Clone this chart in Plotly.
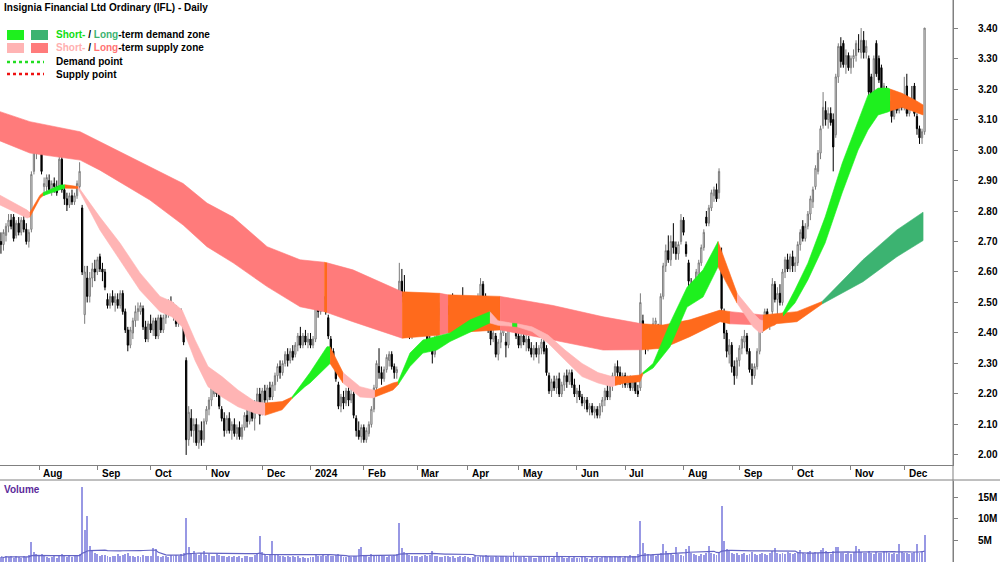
import plotly.graph_objects as go
import pandas as pd

# ---------------- data ----------------
opens = [
 2.70,2.69,2.72,2.75,2.77,2.78,2.72,2.76,2.73,2.77,
 2.74,2.70,2.74,2.93,2.99,3.03,2.99,2.88,2.88,2.90,
 2.87,2.89,2.88,2.88,2.97,2.87,2.84,2.82,2.85,2.83,
 2.85,2.88,2.81,2.46,2.58,2.52,2.58,2.61,2.60,2.65,
 2.61,2.60,2.51,2.49,2.52,2.50,2.51,2.49,2.53,2.47,
 2.41,2.36,2.40,2.44,2.47,2.47,2.48,2.42,2.38,2.43,
 2.41,2.44,2.39,2.45,2.41,2.45,2.47,2.50,2.47,2.48,
 2.43,2.46,2.42,2.31,2.05,2.12,2.08,2.10,2.04,2.08,
 2.05,2.11,2.15,2.18,2.20,2.23,2.20,2.15,2.12,2.08,
 2.12,2.08,2.10,2.07,2.09,2.06,2.09,2.13,2.11,2.15,
 2.12,2.17,2.20,2.14,2.21,2.18,2.22,2.19,2.23,2.26,
 2.29,2.27,2.30,2.33,2.31,2.34,2.33,2.36,2.39,2.36,
 2.39,2.37,2.38,2.36,2.38,2.50,2.47,2.52,2.52,2.45,
 2.38,2.34,2.29,2.23,2.16,2.19,2.17,2.21,2.18,2.20,
 2.12,2.08,2.06,2.09,2.05,2.07,2.10,2.15,2.22,2.29,
 2.27,2.25,2.28,2.31,2.33,2.29,2.27,2.45,2.57,2.53,
 2.46,2.43,2.39,2.43,2.44,2.46,2.48,2.44,2.41,2.37,
 2.36,2.33,2.38,2.46,2.48,2.45,2.49,2.46,2.50,2.48,
 2.46,2.49,2.51,2.50,2.46,2.48,2.47,2.50,2.48,2.52,
 2.56,2.52,2.47,2.41,2.38,2.39,2.33,2.37,2.40,2.37,
 2.36,2.47,2.44,2.45,2.39,2.36,2.39,2.37,2.38,2.35,
 2.33,2.35,2.33,2.35,2.37,2.35,2.26,2.21,2.24,2.22,
 2.25,2.20,2.23,2.26,2.24,2.27,2.23,2.20,2.21,2.19,
 2.17,2.18,2.15,2.16,2.14,2.15,2.13,2.16,2.18,2.21,
 2.19,2.23,2.26,2.29,2.27,2.24,2.26,2.23,2.25,2.22,
 2.24,2.21,2.22,2.44,2.38,2.35,2.39,2.41,2.43,2.42,
 2.38,2.52,2.62,2.67,2.64,2.70,2.68,2.66,2.70,2.77,
 2.69,2.63,2.55,2.53,2.56,2.59,2.63,2.68,2.78,2.76,
 2.81,2.85,2.87,2.86,2.65,2.47,2.40,2.33,2.36,2.29,
 2.26,2.31,2.35,2.37,2.39,2.34,2.28,2.26,2.29,2.34,
 2.41,2.45,2.47,2.43,2.47,2.56,2.51,2.53,2.50,2.60,
 2.64,2.61,2.65,2.62,2.63,2.69,2.75,2.71,2.75,2.79,
 2.83,2.88,2.93,2.99,3.08,3.13,3.10,3.12,3.10,3.05,
 3.24,3.34,3.35,3.28,3.31,3.27,3.30,3.31,3.33,3.32,
 3.36,3.32,3.30,3.24,3.19,3.35,3.30,3.27,3.18,3.20,
 3.19,3.16,3.11,3.15,3.13,3.16,3.14,3.21,3.12,3.16,
 3.21,3.11,3.07,3.04,3.06,
]
highs = [
 2.73,2.74,2.76,2.79,2.79,2.79,2.77,2.78,2.78,2.79,
 2.76,2.74,2.93,3.02,3.05,3.04,3.00,2.91,2.92,2.92,
 2.90,2.91,2.90,2.98,2.98,2.88,2.86,2.86,2.87,2.86,
 2.90,2.96,2.82,2.62,2.62,2.60,2.63,2.64,2.65,2.66,
 2.63,2.61,2.53,2.53,2.54,2.53,2.53,2.54,2.54,2.48,
 2.42,2.42,2.45,2.49,2.50,2.50,2.49,2.44,2.44,2.46,
 2.45,2.45,2.46,2.46,2.46,2.49,2.51,2.52,2.50,2.49,
 2.47,2.48,2.43,2.32,2.16,2.15,2.12,2.12,2.10,2.11,
 2.12,2.16,2.19,2.23,2.25,2.25,2.21,2.16,2.14,2.13,
 2.14,2.11,2.12,2.10,2.11,2.10,2.14,2.15,2.16,2.17,
 2.18,2.22,2.22,2.22,2.23,2.23,2.24,2.24,2.27,2.30,
 2.31,2.31,2.34,2.35,2.35,2.36,2.37,2.40,2.42,2.40,
 2.41,2.40,2.40,2.39,2.51,2.53,2.53,2.56,2.53,2.46,
 2.39,2.35,2.30,2.24,2.20,2.21,2.22,2.23,2.22,2.21,
 2.13,2.11,2.10,2.10,2.09,2.11,2.16,2.23,2.31,2.35,
 2.29,2.29,2.33,2.34,2.34,2.30,2.29,2.63,2.61,2.59,
 2.49,2.45,2.44,2.46,2.47,2.49,2.49,2.47,2.43,2.39,
 2.38,2.39,2.47,2.50,2.50,2.50,2.51,2.51,2.53,2.51,
 2.50,2.52,2.55,2.52,2.49,2.51,2.51,2.52,2.53,2.58,
 2.57,2.53,2.48,2.42,2.42,2.40,2.38,2.41,2.46,2.40,
 2.48,2.49,2.47,2.46,2.41,2.40,2.41,2.40,2.39,2.37,
 2.36,2.37,2.36,2.38,2.38,2.36,2.27,2.25,2.26,2.26,
 2.27,2.24,2.27,2.28,2.28,2.28,2.25,2.22,2.23,2.20,
 2.19,2.19,2.17,2.17,2.16,2.16,2.17,2.19,2.22,2.23,
 2.24,2.27,2.30,2.31,2.29,2.27,2.27,2.26,2.26,2.25,
 2.25,2.23,2.53,2.46,2.40,2.40,2.42,2.45,2.45,2.43,
 2.53,2.63,2.69,2.72,2.72,2.76,2.70,2.70,2.79,2.78,
 2.70,2.64,2.58,2.57,2.61,2.64,2.69,2.74,2.80,2.82,
 2.87,2.88,2.89,2.94,2.68,2.48,2.41,2.38,2.37,2.31,
 2.32,2.36,2.39,2.41,2.40,2.35,2.30,2.30,2.35,2.42,
 2.46,2.48,2.48,2.45,2.58,2.57,2.55,2.56,2.61,2.65,
 2.66,2.66,2.67,2.65,2.70,2.74,2.77,2.76,2.80,2.85,
 2.88,2.95,3.00,3.08,3.19,3.16,3.14,3.14,3.12,3.25,
 3.35,3.37,3.36,3.33,3.32,3.31,3.33,3.36,3.38,3.40,
 3.39,3.36,3.31,3.25,3.31,3.36,3.31,3.28,3.22,3.21,
 3.20,3.18,3.16,3.17,3.18,3.18,3.24,3.25,3.17,3.21,
 3.22,3.12,3.08,3.07,3.40,
]
lows = [
 2.66,2.67,2.70,2.73,2.74,2.70,2.71,2.72,2.72,2.73,
 2.69,2.68,2.73,2.92,2.97,2.99,2.92,2.85,2.86,2.86,
 2.85,2.86,2.85,2.87,2.86,2.82,2.80,2.81,2.82,2.82,
 2.84,2.87,2.59,2.43,2.50,2.50,2.55,2.57,2.59,2.60,
 2.57,2.54,2.48,2.48,2.49,2.47,2.48,2.48,2.46,2.40,
 2.34,2.35,2.38,2.42,2.44,2.46,2.41,2.37,2.37,2.40,
 2.39,2.38,2.38,2.40,2.40,2.43,2.45,2.46,2.44,2.42,
 2.42,2.43,2.36,2.00,2.03,2.06,2.04,2.03,2.02,2.03,
 2.04,2.10,2.13,2.16,2.19,2.19,2.15,2.11,2.06,2.07,
 2.07,2.05,2.06,2.05,2.05,2.05,2.08,2.09,2.10,2.11,
 2.08,2.14,2.10,2.13,2.16,2.17,2.18,2.18,2.21,2.24,
 2.25,2.26,2.29,2.29,2.30,2.31,2.32,2.34,2.35,2.35,
 2.36,2.35,2.35,2.35,2.37,2.45,2.46,2.49,2.46,2.38,
 2.33,2.29,2.24,2.15,2.14,2.15,2.16,2.16,2.17,2.12,
 2.06,2.05,2.04,2.04,2.04,2.06,2.09,2.14,2.21,2.25,
 2.23,2.24,2.27,2.29,2.28,2.25,2.25,2.44,2.50,2.43,
 2.40,2.38,2.38,2.41,2.41,2.44,2.43,2.40,2.36,2.34,
 2.30,2.32,2.37,2.44,2.44,2.44,2.45,2.45,2.47,2.45,
 2.45,2.47,2.48,2.45,2.44,2.46,2.46,2.47,2.47,2.51,
 2.51,2.46,2.40,2.36,2.37,2.32,2.31,2.35,2.39,2.32,
 2.35,2.43,2.42,2.38,2.35,2.35,2.36,2.34,2.34,2.32,
 2.31,2.32,2.30,2.33,2.33,2.26,2.20,2.19,2.21,2.20,
 2.19,2.19,2.21,2.22,2.23,2.22,2.19,2.17,2.18,2.16,
 2.15,2.14,2.13,2.13,2.12,2.12,2.12,2.14,2.16,2.18,
 2.18,2.21,2.24,2.25,2.23,2.22,2.22,2.22,2.21,2.21,
 2.20,2.19,2.21,2.37,2.33,2.34,2.37,2.39,2.40,2.35,
 2.37,2.51,2.60,2.63,2.62,2.66,2.64,2.64,2.69,2.72,
 2.65,2.49,2.51,2.51,2.55,2.58,2.62,2.67,2.75,2.75,
 2.80,2.83,2.83,2.84,2.47,2.38,2.32,2.30,2.27,2.23,
 2.25,2.29,2.33,2.35,2.33,2.27,2.23,2.25,2.28,2.33,
 2.40,2.42,2.42,2.41,2.46,2.50,2.45,2.49,2.49,2.58,
 2.60,2.60,2.60,2.60,2.62,2.67,2.70,2.70,2.74,2.77,
 2.81,2.87,2.92,2.97,3.07,3.08,3.07,3.08,2.93,3.04,
 3.22,3.27,3.27,3.25,3.26,3.25,3.27,3.29,3.32,3.30,
 3.30,3.30,3.18,3.13,3.18,3.24,3.22,3.19,3.16,3.17,
 3.16,3.09,3.10,3.12,3.12,3.13,3.13,3.11,3.11,3.14,
 3.11,3.05,3.02,3.02,3.05,
]
closes = [
 2.69,2.73,2.75,2.77,2.75,2.71,2.76,2.73,2.77,2.74,
 2.70,2.73,2.92,3.00,3.03,3.00,2.93,2.89,2.91,2.87,
 2.89,2.88,2.86,2.97,2.87,2.84,2.82,2.85,2.83,2.85,
 2.89,2.93,2.60,2.60,2.52,2.58,2.61,2.60,2.64,2.61,
 2.60,2.55,2.49,2.52,2.50,2.52,2.49,2.53,2.47,2.41,
 2.36,2.41,2.44,2.47,2.48,2.49,2.42,2.38,2.43,2.41,
 2.44,2.39,2.45,2.41,2.45,2.47,2.50,2.47,2.48,2.43,
 2.46,2.44,2.37,2.05,2.14,2.08,2.10,2.04,2.08,2.05,
 2.11,2.15,2.18,2.22,2.23,2.20,2.16,2.12,2.08,2.12,
 2.08,2.10,2.07,2.09,2.06,2.09,2.13,2.11,2.15,2.12,
 2.17,2.20,2.13,2.21,2.18,2.22,2.19,2.23,2.26,2.29,
 2.27,2.30,2.33,2.31,2.34,2.32,2.36,2.39,2.36,2.39,
 2.37,2.38,2.36,2.38,2.50,2.47,2.52,2.51,2.47,2.39,
 2.34,2.30,2.25,2.16,2.19,2.17,2.21,2.18,2.20,2.13,
 2.08,2.06,2.09,2.05,2.08,2.10,2.15,2.22,2.30,2.27,
 2.25,2.28,2.32,2.33,2.29,2.27,2.28,2.57,2.52,2.45,
 2.42,2.39,2.43,2.45,2.46,2.48,2.44,2.41,2.37,2.36,
 2.33,2.38,2.46,2.48,2.45,2.49,2.46,2.50,2.48,2.46,
 2.49,2.51,2.50,2.46,2.48,2.47,2.50,2.48,2.52,2.56,
 2.52,2.47,2.41,2.38,2.40,2.33,2.37,2.40,2.45,2.36,
 2.47,2.44,2.45,2.39,2.36,2.39,2.37,2.38,2.35,2.33,
 2.35,2.33,2.35,2.37,2.34,2.27,2.21,2.24,2.22,2.25,
 2.20,2.23,2.26,2.24,2.27,2.23,2.20,2.21,2.19,2.17,
 2.18,2.15,2.16,2.14,2.15,2.13,2.16,2.18,2.21,2.19,
 2.23,2.26,2.29,2.27,2.24,2.26,2.23,2.25,2.22,2.24,
 2.21,2.20,2.50,2.38,2.35,2.39,2.41,2.43,2.44,2.37,
 2.52,2.62,2.67,2.64,2.70,2.68,2.66,2.69,2.77,2.73,
 2.66,2.57,2.53,2.56,2.60,2.63,2.68,2.73,2.76,2.81,
 2.86,2.87,2.84,2.93,2.48,2.40,2.34,2.36,2.29,2.26,
 2.31,2.35,2.38,2.39,2.34,2.28,2.26,2.29,2.34,2.41,
 2.45,2.47,2.43,2.44,2.56,2.51,2.53,2.50,2.60,2.64,
 2.61,2.65,2.62,2.63,2.69,2.73,2.71,2.75,2.79,2.84,
 2.87,2.94,2.99,3.07,3.14,3.10,3.12,3.09,3.01,3.24,
 3.34,3.29,3.28,3.31,3.27,3.30,3.31,3.35,3.33,3.36,
 3.32,3.34,3.19,3.14,3.30,3.25,3.23,3.20,3.21,3.18,
 3.18,3.11,3.15,3.13,3.16,3.14,3.17,3.12,3.16,3.15,
 3.12,3.07,3.04,3.06,3.40,
]
# daily volume, millions of shares
volumes = [
 1.2,0.9,1.4,1.1,1.3,1.0,1.5,1.2,0.9,1.3,1.1,1.6,4.6,2.4,1.8,1.5,1.9,1.3,1.2,1.0,
 1.1,1.4,1.0,1.6,1.8,1.3,1.2,1.5,1.1,1.3,1.4,1.9,17.4,7.5,10.7,3.8,2.6,2.0,1.8,1.5,
 1.7,1.6,1.4,1.2,1.5,1.3,1.8,1.4,1.6,1.9,2.2,1.5,1.3,1.2,1.4,1.1,1.6,1.5,1.3,1.4,
 3.2,3.0,1.4,1.2,1.5,1.3,1.1,1.6,1.4,1.7,1.5,1.8,2.0,10.3,3.5,2.2,2.5,1.9,1.7,2.0,
 2.5,1.6,1.8,1.5,1.4,1.9,1.6,1.3,1.5,1.2,1.4,1.1,1.3,1.2,1.5,1.0,1.3,1.4,1.2,1.1,
 1.6,1.8,6.0,2.4,1.9,1.5,1.7,4.9,1.8,1.6,1.3,1.4,1.2,1.5,1.1,1.3,1.2,1.4,1.0,1.1,
 0.9,1.0,1.2,1.1,1.8,1.5,1.4,1.6,1.3,1.7,1.5,1.4,1.6,1.9,1.3,1.2,1.1,1.4,1.2,1.5,
 1.3,3.1,3.5,1.6,1.4,1.2,1.8,1.5,1.6,1.4,1.3,1.5,1.2,1.4,1.3,1.6,1.8,9.0,3.2,2.4,
 2.0,1.6,1.4,1.3,1.5,1.2,1.4,1.6,1.3,1.7,2.6,1.5,1.4,1.2,1.1,1.3,1.5,1.2,1.4,1.0,
 1.1,1.3,1.2,1.4,1.1,1.0,1.2,1.3,1.1,1.5,1.3,1.6,1.4,1.2,1.1,1.3,1.2,1.4,1.5,1.3,
 1.2,1.4,2.4,1.3,1.2,1.1,1.3,1.0,1.2,1.1,0.9,1.0,1.2,1.1,1.3,1.5,1.2,1.0,1.1,2.4,
 1.3,1.1,1.0,0.9,1.2,1.0,1.1,0.9,1.0,1.2,1.1,1.0,0.8,1.1,1.0,1.2,0.9,1.1,1.3,1.2,
 1.4,1.1,1.5,1.2,1.3,1.0,1.4,1.2,1.6,1.3,1.5,1.8,9.5,4.3,2.2,1.9,1.6,1.8,1.5,1.7,
 2.0,4.1,2.6,2.0,1.8,1.6,3.5,1.9,1.7,1.5,3.0,3.8,2.2,1.8,1.6,1.5,1.9,1.7,2.1,3.8,
 2.0,1.8,1.6,2.4,13.1,4.9,3.0,2.5,2.2,1.9,2.1,1.7,1.8,2.0,1.6,1.9,2.3,1.8,1.6,1.9,
 2.1,1.8,1.7,2.2,2.6,3.2,2.0,1.8,2.1,1.9,2.3,2.0,1.8,2.2,2.4,2.8,2.1,1.9,2.3,2.5,
 2.2,2.4,2.0,2.8,3.3,2.6,2.2,1.9,2.6,3.5,3.4,2.2,2.0,1.8,2.1,1.9,2.3,3.6,3.0,2.4,
 2.0,2.2,2.5,2.1,1.9,2.3,2.0,2.2,2.6,2.6,2.0,1.8,2.1,1.9,4.1,2.3,2.0,2.2,1.9,2.1,
 2.4,4.1,2.0,2.6,6.2,
]

month_labels = ["Aug", "Sep", "Oct", "Nov", "Dec", "2024", "Feb", "Mar", "Apr",
                "May", "Jun", "Jul", "Aug", "Sep", "Oct", "Nov", "Dec"]
month_start = [15, 38, 59, 81, 103, 122, 143, 164, 184, 204, 227, 246, 269, 291, 312, 335, 356]

price_ticks = [2.0, 2.1, 2.2, 2.3, 2.4, 2.5, 2.6, 2.7, 2.8, 2.9, 3.0, 3.1, 3.2, 3.3, 3.4]
vol_ticks = [5, 10, 15]
vol_tick_text = ["5M", "10M", "15M"]

# long-term zone: position (bar index), upper and lower edge, state of following segment
lt_x = [-0.4, 11.4, 31.2, 39.0, 58.7, 71.8, 81.2, 91.5, 104.9, 117.9, 127.4, 128.5,
        138.7, 158.1, 173.0, 176.2, 196.7, 217.6, 237.3, 252.6, 260.9, 271.5, 283.4,
        287.3, 300.3, 313.7, 323.6, 339.7, 353.1, 363.4]
lt_top = [3.126, 3.093, 3.060, 3.027, 2.945, 2.890, 2.826, 2.780, 2.683, 2.640, 2.632, 2.630,
          2.607, 2.535, 2.530, 2.525, 2.520, 2.490, 2.453, 2.430, 2.426, 2.443, 2.475,
          2.470, 2.459, 2.470, 2.503, 2.640, 2.738, 2.796]
lt_bot = [3.030, 2.990, 2.967, 2.934, 2.836, 2.754, 2.683, 2.630, 2.552, 2.486, 2.470, 2.467,
          2.437, 2.383, 2.393, 2.400, 2.410, 2.377, 2.344, 2.345, 2.350, 2.388, 2.437,
          2.430, 2.426, 2.437, 2.495, 2.568, 2.650, 2.703]
lt_zone = ["S", "S", "S", "S", "S", "S", "S", "S", "S", "S", "N", "S",
           "S", "N", "S", "N", "S", "S", "S", "N", "N", "N", "N",
           "S", "N", "N", "D", "D", "D", "D"]

# short-term zone
st_x = [-0.4, 10.3, 11.4, 15.4, 16.6, 23.3, 25.2, 30.4, 39.0, 46.9, 54.8, 62.7, 67.4, 71.4,
        76.5, 81.6, 87.1, 93.4, 100.1, 104.1, 110.8, 114.7, 119.8, 121.8, 128.5, 129.7,
        134.8, 141.5, 146.6, 147.4, 154.5, 156.5, 161.2, 166.3, 171.8, 177.0, 184.9,
        192.7, 195.9, 201.5, 203.5, 209.3, 215.6, 222.3, 229.0, 235.3, 240.8, 242.0,
        245.9, 251.8, 253.0, 257.0, 263.7, 270.4, 276.7, 282.6, 290.1, 296.4, 299.1,
        300.3, 303.1, 305.0, 308.2, 312.9, 318.0, 324.8, 331.5, 337.8, 341.7, 345.7,
        349.6, 350.4, 355.1, 360.2, 363.4]
st_top = [2.852, 2.803, 2.795, 2.852, 2.860, 2.885, 2.886, 2.880, 2.780, 2.695, 2.597, 2.520,
          2.503, 2.475, 2.377, 2.290, 2.257, 2.213, 2.175, 2.170, 2.175, 2.190, 2.246, 2.270,
          2.355, 2.355, 2.270, 2.224, 2.213, 2.212, 2.236, 2.240, 2.334, 2.377, 2.390, 2.400,
          2.443, 2.470, 2.440, 2.432, 2.430, 2.420, 2.393, 2.344, 2.300, 2.270, 2.257, 2.257,
          2.257, 2.262, 2.270, 2.300, 2.433, 2.550, 2.607, 2.700, 2.530, 2.466, 2.443,
          2.440, 2.433, 2.453, 2.466, 2.541, 2.629, 2.780, 2.956, 3.098, 3.180, 3.203,
          3.203, 3.200, 3.186, 3.164, 3.148]
st_bot = [2.820, 2.777, 2.780, 2.842, 2.850, 2.870, 2.875, 2.874, 2.738, 2.640, 2.540, 2.470,
          2.453, 2.420, 2.310, 2.224, 2.190, 2.158, 2.137, 2.130, 2.148, 2.185, 2.224, 2.236,
          2.290, 2.300, 2.236, 2.190, 2.187, 2.190, 2.213, 2.230, 2.290, 2.334, 2.344, 2.372,
          2.404, 2.433, 2.425, 2.422, 2.420, 2.405, 2.367, 2.311, 2.257, 2.236, 2.224, 2.228,
          2.236, 2.240, 2.265, 2.285, 2.355, 2.485, 2.518, 2.617, 2.498, 2.420, 2.400,
          2.405, 2.420, 2.426, 2.455, 2.498, 2.574, 2.695, 2.859, 3.000, 3.066, 3.115,
          3.125, 3.128, 3.140, 3.125, 3.115]
st_zone = ["S", "S", "N", "N", "D", "D", "N", "S", "S", "S", "S", "S", "S", "S",
           "S", "S", "S", "S", "S", "N", "N", "D", "D", "D", "D", "N",
           "S", "S", "S", "N", "N", "D", "D", "D", "D", "D", "D",
           "S", "S", "D", "S", "S", "S", "S", "S", "S", "S", "N",
           "N", "N", "D", "D", "D", "D", "D", "N", "S", "S", "S",
           "N", "N", "N", "D", "D", "D", "D", "D", "D", "D", "D",
           "D", "N", "N", "N", "N"]

# ---------------- styling ----------------
FONT = "Arial, Liberation Sans, sans-serif"
ORANGE = "#ff6a1c"
LT_COLORS = {"S": "#ff7b7b", "N": ORANGE, "D": "#3cb371"}
ST_COLORS = {"S": "#ffb4b4", "N": ORANGE, "D": "#1ef01e"}
W, H = 1000, 562
PLOT_W = 953

fig = go.Figure()


def add_band(xs, tops, bots, zones, cmap):
    n = len(xs)
    k = 0
    while k < n - 1:
        z = zones[k]
        j = k
        while j < n - 1 and zones[j] == z:
            j += 1
        sx = xs[k:j + 1]
        px = sx + sx[::-1]
        py_ = tops[k:j + 1] + bots[k:j + 1][::-1]
        fig.add_trace(go.Scatter(
            x=px, y=py_, mode="lines", fill="toself", fillcolor=cmap[z],
            line=dict(width=0.6, color=cmap[z]), hoverinfo="skip",
            showlegend=False, xaxis="x", yaxis="y"))
        k = j


add_band(lt_x, lt_top, lt_bot, lt_zone, LT_COLORS)
add_band(st_x, st_top, st_bot, st_zone, ST_COLORS)

idx = list(range(len(closes)))
fig.add_trace(go.Candlestick(
    x=idx, open=opens, high=highs, low=lows, close=closes,
    increasing=dict(line=dict(color="#7a7a7a", width=1), fillcolor="white"),
    decreasing=dict(line=dict(color="black", width=1), fillcolor="black"),
    whiskerwidth=0, showlegend=False, xaxis="x", yaxis="y"))

fig.add_trace(go.Bar(
    x=idx, y=volumes, width=0.38, marker=dict(color="#9898e4", line=dict(width=0)),
    showlegend=False, xaxis="x2", yaxis="y2"))

vol_ma = pd.Series(volumes).rolling(30, min_periods=1).mean()
fig.add_trace(go.Scatter(
    x=idx, y=vol_ma, mode="lines", line=dict(color="#6464c4", width=1.2),
    showlegend=False, xaxis="x2", yaxis="y2"))

X_RANGE = [-0.37, 375.2]
price_bot_px = 465
vol_top_px = 481


def py(px):
    return 1 - px / H


def pxx(px):
    return px / PLOT_W


fig.update_layout(
    width=W, height=H,
    margin=dict(l=0, r=W - PLOT_W, t=0, b=0),
    paper_bgcolor="white", plot_bgcolor="white",
    font=dict(family=FONT, size=10, color="black"),
    showlegend=False,
    bargap=0,
    xaxis=dict(domain=[0, 1], range=X_RANGE, anchor="y",
               tickvals=month_start, showticklabels=False, ticks="outside",
               ticklen=4, tickcolor="#808080", showline=True, linecolor="#808080",
               showgrid=False, zeroline=False, rangeslider=dict(visible=False)),
    xaxis2=dict(domain=[0, 1], range=X_RANGE, anchor="y2", matches="x",
                showticklabels=False, showline=False, showgrid=False, zeroline=False),
    yaxis=dict(domain=[py(price_bot_px), 1], range=[1.967, 3.492], side="right",
               tickvals=price_ticks, ticktext=[f"{v:.2f}" for v in price_ticks],
               ticks="outside", ticklen=4, tickcolor="#808080",
               ticklabelstandoff=18,
               tickfont=dict(family=FONT, size=10, color="black", weight="bold"),
               showline=True, linecolor="#808080", showgrid=False, zeroline=False),
    yaxis2=dict(domain=[0, py(vol_top_px)], range=[0, 18.8], side="right",
                tickvals=vol_ticks, ticktext=vol_tick_text,
                ticks="outside", ticklen=4, tickcolor="#808080",
                ticklabelstandoff=18,
                tickfont=dict(family=FONT, size=10, color="black", weight="bold"),
                showline=True, linecolor="#808080", showgrid=False, zeroline=False),
)

shapes = []
shapes.append(dict(type="line", xref="paper", yref="paper", x0=1, x1=1, y0=0, y1=1,
                   line=dict(color="#808080", width=1)))
shapes.append(dict(type="line", xref="paper", yref="paper", x0=0, x1=W / PLOT_W,
                   y0=py(480), y1=py(480), line=dict(color="#808080", width=1)))


def rect(x0, x1, y0, y1, color):
    return dict(type="rect", xref="paper", yref="paper", x0=pxx(x0), x1=pxx(x1),
                y0=py(y1), y1=py(y0), fillcolor=color, line=dict(width=0))


shapes.append(rect(7, 24, 30, 40, ST_COLORS["D"]))
shapes.append(rect(31, 48, 30, 40, LT_COLORS["D"]))
shapes.append(rect(7, 24, 43, 53, ST_COLORS["S"]))
shapes.append(rect(31, 48, 43, 53, LT_COLORS["S"]))
shapes.append(dict(type="line", xref="paper", yref="paper", x0=pxx(7), x1=pxx(44),
                   y0=py(62), y1=py(62), line=dict(color="#22dd22", width=2.5, dash="dot")))
shapes.append(dict(type="line", xref="paper", yref="paper", x0=pxx(7), x1=pxx(44),
                   y0=py(74), y1=py(74), line=dict(color="#ee1111", width=2.5, dash="dot")))
fig.update_layout(shapes=shapes)

ann = []
bold = dict(family=FONT, size=10, color="black", weight="bold")
ann.append(dict(text="Insignia Financial Ltd Ordinary (IFL) - Daily", xref="paper", yref="paper",
                x=pxx(2), y=py(8), xanchor="left", yanchor="middle", showarrow=False, font=bold))
ann.append(dict(text='<span style="color:#11dd11">Short-</span> / <span style="color:#3cb371">Long</span>-term demand zone',
                xref="paper", yref="paper", x=pxx(54), y=py(35), xanchor="left", yanchor="middle",
                showarrow=False, font=bold))
ann.append(dict(text='<span style="color:#ffb0b0">Short-</span> / <span style="color:#ff7373">Long</span>-term supply zone',
                xref="paper", yref="paper", x=pxx(54), y=py(48), xanchor="left", yanchor="middle",
                showarrow=False, font=bold))
ann.append(dict(text="Demand point", xref="paper", yref="paper", x=pxx(54), y=py(62),
                xanchor="left", yanchor="middle", showarrow=False, font=bold))
ann.append(dict(text="Supply point", xref="paper", yref="paper", x=pxx(54), y=py(74),
                xanchor="left", yanchor="middle", showarrow=False, font=bold))
ann.append(dict(text="Volume", xref="paper", yref="paper", x=pxx(2), y=py(489),
                xanchor="left", yanchor="middle", showarrow=False,
                font=dict(family=FONT, size=10, color="#5b2a9a", weight="bold")))
for lab, pos in zip(month_labels, month_start):
    ann.append(dict(text=lab, xref="x", yref="paper", x=pos + 0.9, y=py(473),
                    xanchor="left", yanchor="middle", showarrow=False, font=bold))
fig.update_layout(annotations=ann)

fig.write_html("out.html")
